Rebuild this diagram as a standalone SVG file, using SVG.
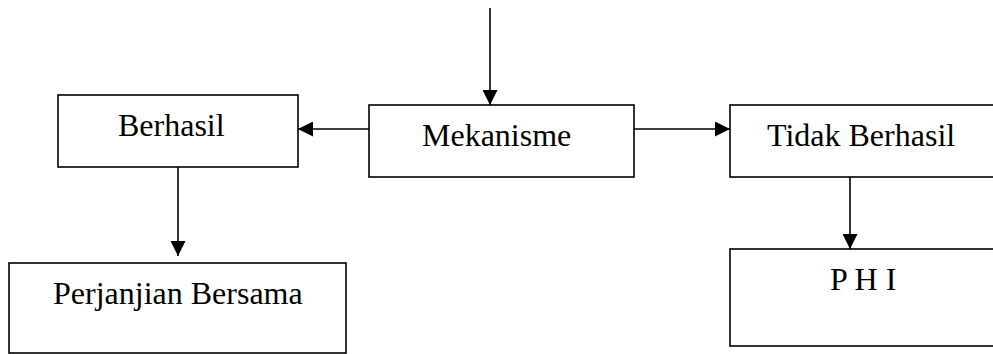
<svg xmlns="http://www.w3.org/2000/svg" width="993" height="354" viewBox="0 0 993 354">
<style>
.box{fill:#fff;stroke:#000;stroke-width:1.6}
.lbl{font-family:"Liberation Serif","Times New Roman",serif;font-size:32px;fill:#000}
.conn{stroke:#000;stroke-width:1.6;fill:none}
</style>
<defs>
<marker id="ah" viewBox="0 0 10 10" refX="10" refY="5" markerWidth="15" markerHeight="15" markerUnits="userSpaceOnUse" orient="auto">
<path d="M0,0 L10,5 L0,10 Z" fill="#000"/>
</marker>
</defs>
<g id="connectors">
<line class="conn" x1="490" y1="8" x2="490" y2="105" marker-end="url(#ah)"/>
<line class="conn" x1="369" y1="129" x2="298" y2="129" marker-end="url(#ah)"/>
<line class="conn" x1="634" y1="129" x2="730" y2="129" marker-end="url(#ah)"/>
<line class="conn" x1="178" y1="167" x2="178" y2="256" marker-end="url(#ah)"/>
<line class="conn" x1="850" y1="177" x2="850" y2="249" marker-end="url(#ah)"/>
</g>
<g id="berhasil">
<rect class="box" x="58" y="95" width="240" height="72"/>
<text class="lbl" x="118" y="136">Berhasil</text>
</g>
<g id="mekanisme">
<rect class="box" x="369" y="105" width="265" height="72"/>
<text class="lbl" x="422" y="146">Mekanisme</text>
</g>
<g id="tidak-berhasil">
<rect class="box" x="730" y="105" width="280" height="72"/>
<text class="lbl" x="767" y="146">Tidak Berhasil</text>
</g>
<g id="perjanjian-bersama">
<rect class="box" x="9" y="263" width="337" height="90"/>
<text class="lbl" x="53" y="304">Perjanjian Bersama</text>
</g>
<g id="phi">
<rect class="box" x="730" y="249" width="280" height="97"/>
<text class="lbl" x="830" y="290">P H I</text>
</g>
</svg>
